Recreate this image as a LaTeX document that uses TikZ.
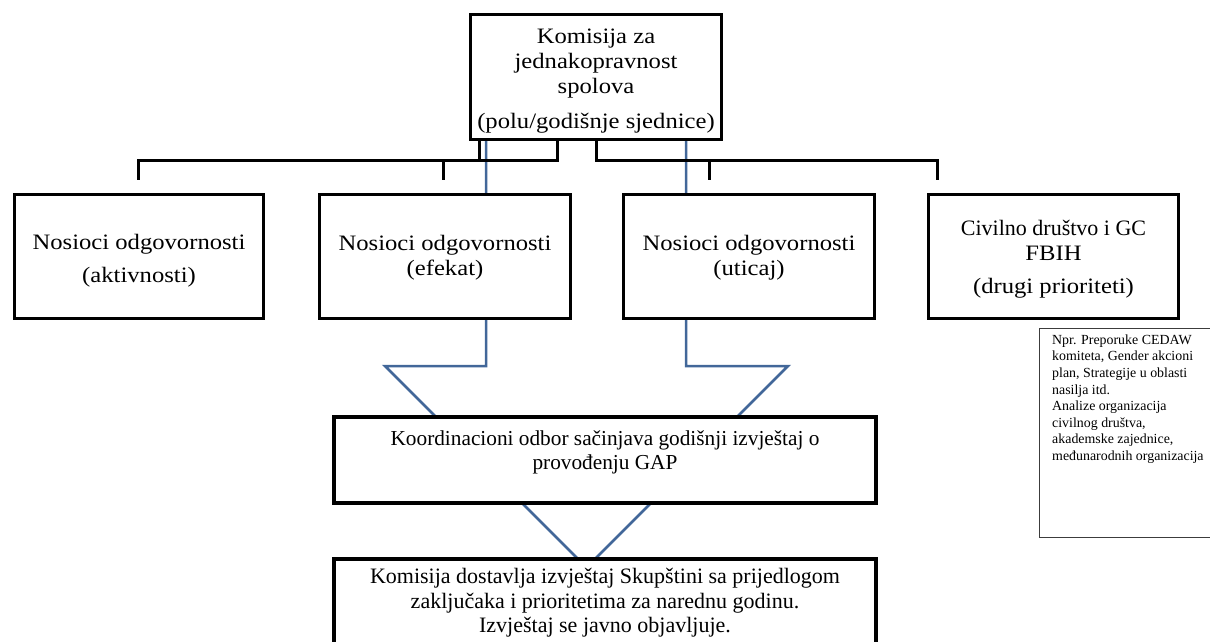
\documentclass[tikz,border=0pt]{standalone}
\usepackage{fontspec}
\setmainfont{Liberation Serif}
\newfontfamily\camfont[FakeStretch=1.12]{Liberation Serif}
\definecolor{arrowblue}{RGB}{66,103,153}
\definecolor{notegray}{RGB}{60,60,60}
\begin{document}
\begin{tikzpicture}[x=1pt,y=-1pt,
  cambox/.style={draw=black, line width=3pt, fill=white, inner sep=0pt,
    minimum width=251pt, minimum height=124pt},
  camtext/.style={inner sep=0pt, align=center, font=\camfont\fontsize{22}{25}\selectfont},
  bigbox/.style={draw=black, line width=4.5pt, fill=white, inner sep=0pt,
    minimum width=542pt},
  bodytext/.style={inner sep=0pt, align=center, font=\fontsize{21.3}{24.5}\selectfont},
  notebox/.style={draw=notegray, line width=1pt, fill=white, inner sep=0pt},
  notetext/.style={inner sep=0pt, align=left, font=\fontsize{13.9}{16.6}\selectfont},
  bracket/.style={draw=black, line width=3pt, line join=miter},
  arrowline/.style={draw=arrowblue, line width=2.5pt, line join=miter}]
\useasboundingbox (0,0) rectangle (1210,642);
\clip (0,0) rectangle (1210,642);

% blue block arrow outline (drawn first, boxes cover it)
\draw[arrowline] (486,140) -- (486,366) -- (385,366) -- (586.5,567.5)
  -- (788,366) -- (686,366) -- (686,140);

% top box
\node[cambox] (top) at (596,77) {};
\node[camtext, yshift=-4pt] (topt) at (top.center)
  {Komisija za\\jednakopravnost\\spolova\\[10pt](polu/godišnje sjednice)};

% bracket connectors
\coordinate (l1) at (479,160);
\coordinate (l2) at (557,160);
\coordinate (r1) at (596,160);
\coordinate (jl) at (138,160);
\coordinate (jr) at (937,160);
\draw[bracket] (top.south -| l1) -- (l1);
\draw[bracket] (top.south -| l2) -- (l2) -- (jl) -- (138,180);
\draw[bracket] (443,160) -- (443,180);
\draw[bracket] (top.south -| r1) -- (r1) -- (jr) -- (937,180);
\draw[bracket] (709,160) -- (709,180);

% row of boxes
\node[cambox, minimum width=249pt] (b1) at (139,256.5) {};
\node[camtext, yshift=-4pt] (b1t) at (b1.center)
  {Nosioci odgovornosti\\[8pt](aktivnosti)};
\node[cambox] (b2) at (445,256.5) {};
\node[camtext, yshift=-1pt] (b2t) at (b2.center) {Nosioci odgovornosti\\(efekat)};
\node[cambox] (b3) at (749,256.5) {};
\node[camtext, yshift=-1pt] (b3t) at (b3.center) {Nosioci odgovornosti\\(uticaj)};
\node[cambox, minimum width=250pt] (b4) at (1053.5,256.5) {};
\node[camtext, yshift=-3pt] (b4t) at (b4.center)
  {{\rmfamily Civilno društvo i GC}\\FBIH\\[8pt](drugi prioriteti)};

% note box
\node[notebox, anchor=north west, minimum width=190pt, minimum height=209pt]
  (note) at (1038.5,327.5) {};
\node[notetext, anchor=west] (notet) at (1052,399)
  {Npr. Preporuke CEDAW\\komiteta, Gender akcioni\\plan, Strategije u oblasti\\nasilja itd.\\Analize organizacija\\civilnog društva,\\akademske zajednice,\\međunarodnih organizacija};

% coordination box
\node[bigbox, minimum height=86pt] (koord) at (605,460) {};
\node[bodytext] (koordt) at (605,452.5)
  {Koordinacioni odbor sačinjava godišnji izvještaj o\\provođenju GAP};

% bottom box
\node[bigbox, minimum height=120pt] (final) at (605,619) {};
\node[bodytext, font=\fontsize{22}{24.5}\selectfont] (finalt) at (605,603)
  {Komisija dostavlja izvještaj Skupštini sa prijedlogom\\zaključaka i prioritetima za narednu godinu.\\Izvještaj se javno objavljuje.};
\end{tikzpicture}
\end{document}
